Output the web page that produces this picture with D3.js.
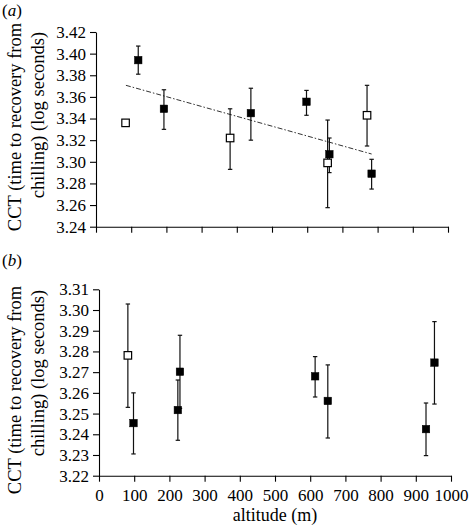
<!DOCTYPE html>
<html><head><meta charset="utf-8">
<script src="https://cdn.jsdelivr.net/npm/d3@7"></script>
<style>body{margin:0;background:#fff}svg{display:block}</style>
</head><body><svg id="c" width="470" height="526"></svg>
<script>
// ---- data ----
const xTicks = [0,100,200,300,400,500,600,700,800,900,1000];
const yTicksA = [3.24,3.26,3.28,3.30,3.32,3.34,3.36,3.38,3.40,3.42];
const yTicksB = [3.22,3.23,3.24,3.25,3.26,3.27,3.28,3.29,3.30,3.31];

const altA   = [84, 120, 193, 381, 440, 598, 658, 663, 770, 783];
const cctA   = [3.336, 3.394, 3.349, 3.322, 3.345, 3.3555, 3.299, 3.307, 3.343, 3.289];
const upperA = [3.336, 3.407, 3.3666, 3.349, 3.368, 3.366, 3.3386, 3.322, 3.3707, 3.3023];
const lowerA = [3.336, 3.381, 3.330, 3.293, 3.320, 3.343, 3.2576, 3.290, 3.3146, 3.2748];
const typeA  = ["open","filled","filled","open","filled","filled","open","filled","open","filled"];
const trendX = [85, 783];
const trendY = [3.3707, 3.3072];

const altB   = [82, 98, 224, 230, 614, 650, 929, 953];
const cctB   = [3.2781, 3.2454, 3.2517, 3.2702, 3.268, 3.2561, 3.2425, 3.2746];
const upperB = [3.3029, 3.260, 3.2662, 3.2878, 3.2775, 3.2735, 3.2551, 3.2944];
const lowerB = [3.253, 3.2305, 3.2371, 3.2525, 3.258, 3.2382, 3.2297, 3.2546];
const typeB  = ["open","filled","filled","filled","filled","filled","filled","filled"];

const yLabel = ["CCT (time to recovery from", "chilling) (log seconds)"];
const xLabel = "altitude (m)";

// ---- drawing ----
const svg = d3.select("#c");
const FONT = "'Liberation Serif','Times New Roman',serif";

function panel(cfg){
  const x = d3.scaleLinear().domain([0,1000]).range(cfg.xr);
  const y = d3.scaleLinear().domain(cfg.yd).range(cfg.yr);
  const g = svg.append("g");

  const ya = d3.axisLeft(y).tickValues(cfg.yTicks).tickFormat(cfg.yFmt).tickSize(6).tickSizeOuter(0).tickPadding(4);
  const gy = g.append("g").attr("transform",`translate(${cfg.xr[0]},0)`).call(ya);
  const xa = d3.axisBottom(x).tickValues(xTicks).tickSize(6).tickSizeOuter(0).tickPadding(7)
      .tickFormat(cfg.showX ? d3.format("d") : () => "");
  const gx = g.append("g").attr("transform",`translate(0,${cfg.yr[0]})`).call(xa);
  [gx,gy].forEach(a=>{
    a.attr("font-family",null);
    a.selectAll("path,line").attr("stroke","#000").attr("stroke-width",1.1);
    a.selectAll("text").style("font-family",FONT).attr("font-size",17).attr("fill","#000");
  });

  if (cfg.trendX){
    g.append("path")
      .datum(cfg.trendX.map((v,i)=>[v,cfg.trendY[i]]))
      .attr("d", d3.line().x(d=>x(d[0])).y(d=>y(d[1])))
      .attr("fill","none").attr("stroke","#333").attr("stroke-width",1)
      .attr("stroke-dasharray","5,2,1.5,2");
  }

  const data = cfg.alt.map((a,i)=>({a, v:cfg.cct[i], hi:cfg.hi[i], lo:cfg.lo[i], t:cfg.type[i]}));
  const eb = g.append("g").selectAll("g").data(data.filter(d=>d.hi!==d.lo)).join("g");
  eb.append("line").attr("x1",d=>x(d.a)).attr("x2",d=>x(d.a)).attr("y1",d=>y(d.hi)).attr("y2",d=>y(d.lo));
  eb.append("line").attr("x1",d=>x(d.a)-2.2).attr("x2",d=>x(d.a)+2.2).attr("y1",d=>y(d.hi)).attr("y2",d=>y(d.hi));
  eb.append("line").attr("x1",d=>x(d.a)-2.2).attr("x2",d=>x(d.a)+2.2).attr("y1",d=>y(d.lo)).attr("y2",d=>y(d.lo));
  eb.selectAll("line").attr("stroke","#111").attr("stroke-width",1.2);

  const s = 7.5;
  g.append("g").selectAll("rect").data(data).join("rect")
    .attr("x",d=>x(d.a)-s/2).attr("y",d=>y(d.v)-s/2).attr("width",s).attr("height",s)
    .attr("fill",d=>d.t==="open"?"#fff":"#000")
    .attr("stroke","#000").attr("stroke-width",d=>d.t==="open"?1.2:0.5);

  // y label
  const cy = cfg.labelCy;
  g.append("text").attr("transform",`translate(21,${cy[0]}) rotate(-90)`)
    .attr("text-anchor","middle").style("font-family",FONT).attr("font-size",18.5).text(yLabel[0]);
  g.append("text").attr("transform",`translate(43.5,${cy[1]}) rotate(-90)`)
    .attr("text-anchor","middle").style("font-family",FONT).attr("font-size",18.5).text(yLabel[1]);

  // panel label
  const pl = g.append("text").attr("x",2).attr("y",cfg.tagY).style("font-family",FONT).attr("font-size",17);
  pl.append("tspan").text("(");
  pl.append("tspan").attr("font-style","italic").text(cfg.tag);
  pl.append("tspan").text(")");

  if (cfg.showX){
    g.append("text").attr("x",(cfg.xr[0]+cfg.xr[1])/2).attr("y",521).attr("text-anchor","middle")
      .style("font-family",FONT).attr("font-size",18).text(xLabel);
  }
}

panel({xr:[96,448], yd:[3.24,3.42], yr:[226.7,32], yTicks:yTicksA, yFmt:d3.format(".2f"),
  alt:altA, cct:cctA, hi:upperA, lo:lowerA, type:typeA, trendX, trendY,
  showX:false, labelCy:[127,115], tag:"a", tagY:16});
panel({xr:[99,451], yd:[3.22,3.31], yr:[475.7,289.3], yTicks:yTicksB, yFmt:d3.format(".2f"),
  alt:altB, cct:cctB, hi:upperB, lo:lowerB, type:typeB,
  showX:true, labelCy:[390,373], tag:"b", tagY:266});
</script></body></html>
